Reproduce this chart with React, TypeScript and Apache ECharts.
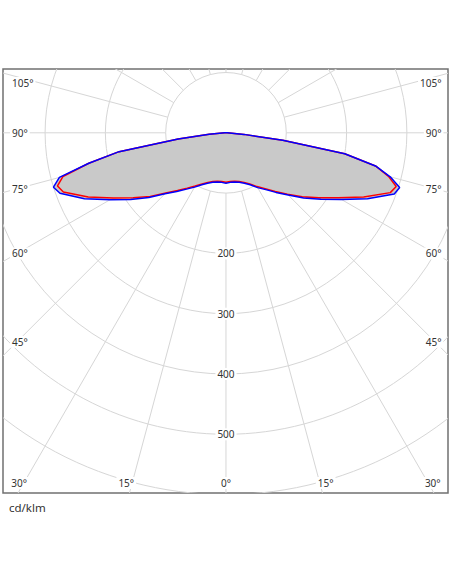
import React, { useEffect, useRef } from "react";
import * as echarts from "echarts";

// Gamma angles (deg, 0 = straight down, negative = left half)
const GAMMA = [
  -90, -87.5, -85, -82.5, -80, -77.5, -75, -72.5, -70, -65, -60, -55, -50, -45, -40, -35, -30, -25, -20, -15, -10, -5,
  0, 5, 10, 15, 20, 25, 30, 35, 40, 45, 50, 55, 60, 65, 70, 72.5, 75, 77.5, 80, 82.5, 85, 87.5, 90,
];
// Luminous intensity (cd/klm), blue plane
const PLANE_BLUE = [
  0, 2, 28, 80, 180, 233, 286, 300, 293, 259, 222, 193, 167, 143, 127, 114, 104, 95, 89, 85, 83, 82.5,
  83.5, 82.5, 83, 85, 89, 95, 105, 115, 129, 146, 168, 192, 221, 259, 297, 302, 282, 254, 200, 95, 30, 2, 0,
];
// Luminous intensity (cd/klm), red plane
const PLANE_RED = [
  0, 2, 28, 80, 180, 233, 280, 293, 287, 252, 216, 188, 164, 141, 125, 112, 102, 93.5, 87.5, 83.5, 81.5, 81,
  82, 81, 81.5, 83.5, 87.5, 93.5, 103, 113, 127, 144, 165, 188, 215, 252, 290, 296, 279, 254, 200, 95, 30, 2, 0,
];

const RING_VALUES = [100, 200, 300, 400, 500, 600];
const RAY_ANGLES = [-165, -150, -135, -120, -105, -90, -75, -60, -45, -30, -15, 0, 15, 30, 45, 60, 75, 90, 105, 120, 135, 150, 165, 180];
const ANGLE_LABELS = [-105, -90, -75, -60, -45, 45, 60, 75, 90, 105, -30, -15, 0, 15, 30];
const RADIAL_LABELS = [200, 300, 400, 500];
const UNIT_LABEL = "cd/klm";

const GRID_COLOR = "#d6d6d6";
const TEXT_COLOR = "#333333";
const FONT = '10px "Noto Sans"';

const toXY = (r: number, deg: number): [number, number] => {
  const a = (deg * Math.PI) / 180;
  return [r * Math.sin(a), -r * Math.cos(a)];
};

export default function App() {
  const ref = useRef<HTMLDivElement>(null);

  useEffect(() => {
    if (!ref.current) return;
    const chart = echarts.init(ref.current, undefined, { renderer: "svg" });

    const bluePts = GAMMA.map((g, i) => toXY(PLANE_BLUE[i], g));
    const redPts = GAMMA.map((g, i) => toXY(PLANE_RED[i], g));

    const option: any = {
      animation: false,
      backgroundColor: "#ffffff",
      grid: {
        left: 3,
        top: 69,
        width: 445,
        height: 424,
        show: true,
        borderColor: "#707070",
        borderWidth: 1.5,
        backgroundColor: "transparent",
      },
      xAxis: { type: "value", min: -369.8, max: 368.2, show: false, splitLine: { show: false } },
      yAxis: { type: "value", min: -597.3, max: 105.8, show: false, splitLine: { show: false } },
      graphic: [
        {
          type: "text",
          x: 9,
          y: 507.5,
          style: {
            text: UNIT_LABEL,
            font: '11.5px "Noto Sans"',
            fill: TEXT_COLOR,
            textVerticalAlign: "middle",
            verticalAlign: "middle",
          },
        },
      ],
      series: [
        {
          type: "custom",
          name: "rings",
          coordinateSystem: "cartesian2d",
          clip: true,
          silent: true,
          z: 1,
          data: RING_VALUES.map((v) => [v, 0]),
          renderItem: (params: any, api: any) => {
            const c = api.coord([0, 0]);
            const r = api.size([api.value(0), 0])[0];
            return {
              type: "circle",
              shape: { cx: c[0], cy: c[1], r },
              style: { fill: "none", stroke: GRID_COLOR, lineWidth: 1 },
            };
          },
        },
        {
          type: "custom",
          name: "rays",
          coordinateSystem: "cartesian2d",
          clip: true,
          silent: true,
          z: 1,
          data: RAY_ANGLES.map((a) => [a, 0]),
          renderItem: (params: any, api: any) => {
            const a = api.value(0);
            const p1 = api.coord(toXY(100, a));
            const p2 = api.coord(toXY(1500, a));
            return {
              type: "line",
              shape: { x1: p1[0], y1: p1[1], x2: p2[0], y2: p2[1] },
              style: { stroke: GRID_COLOR, lineWidth: 1 },
            };
          },
        },
        {
          type: "custom",
          name: "fill",
          coordinateSystem: "cartesian2d",
          clip: true,
          silent: true,
          z: 2,
          data: [[0, 0]],
          renderItem: (params: any, api: any) => {
            const pts = bluePts.map((p) => api.coord(p));
            return {
              type: "polygon",
              shape: { points: pts },
              style: { fill: "#c9c9c9", stroke: "none" },
            };
          },
        },
        {
          type: "line",
          name: "C90-C270",
          data: redPts,
          symbol: "none",
          showSymbol: false,
          z: 3,
          lineStyle: { color: "#ff0000", width: 1.5 },
        },
        {
          type: "line",
          name: "C0-C180",
          data: bluePts,
          symbol: "none",
          showSymbol: false,
          z: 4,
          lineStyle: { color: "#0000ff", width: 1.5 },
        },
        {
          type: "custom",
          name: "angleLabels",
          coordinateSystem: "cartesian2d",
          clip: false,
          silent: true,
          z: 5,
          data: ANGLE_LABELS.map((a) => [a, 0]),
          renderItem: (params: any, api: any) => {
            const a = api.value(0);
            const cs = params.coordSys;
            const c = api.coord([0, 0]);
            const abs = Math.abs(a);
            const rad = (abs * Math.PI) / 180;
            let x: number;
            let y: number;
            let align: string;
            if (abs >= 45) {
              const dx = 209;
              y = c[1] + (dx * Math.cos(rad)) / Math.sin(rad);
              y = Math.max(y, cs.y + 14);
              if (a < 0) {
                x = cs.x + 7;
                align = "left";
              } else {
                x = cs.x + cs.width - 4.5;
                align = "right";
              }
            } else {
              y = cs.y + cs.height - 10;
              const off = abs === 0 ? 0 : 346 * Math.tan(rad) + 7;
              x = c[0] + (a < 0 ? -off : off);
              align = "center";
            }
            return {
              type: "text",
              style: {
                text: `${abs}°`,
                x,
                y,
                align,
                verticalAlign: "middle",
                textAlign: align,
                textVerticalAlign: "middle",
                font: FONT,
                fill: TEXT_COLOR,
                backgroundColor: "#ffffff",
                padding: [1, 2],
              },
            };
          },
        },
        {
          type: "custom",
          name: "radialLabels",
          coordinateSystem: "cartesian2d",
          clip: false,
          silent: true,
          z: 5,
          data: RADIAL_LABELS.map((v) => [0, -v]),
          renderItem: (params: any, api: any) => {
            const p = api.coord([0, api.value(1)]);
            return {
              type: "text",
              style: {
                text: String(-api.value(1)),
                x: p[0],
                y: p[1],
                align: "center",
                verticalAlign: "middle",
                textAlign: "center",
                textVerticalAlign: "middle",
                font: FONT,
                fill: TEXT_COLOR,
                backgroundColor: "#ffffff",
                padding: [1, 2],
              },
            };
          },
        },
      ],
    };

    chart.setOption(option);
    return () => chart.dispose();
  }, []);

  return (
    <div
      ref={ref}
      style={{ position: "absolute", left: 0, top: 0, width: 452, height: 584 }}
    />
  );
}
